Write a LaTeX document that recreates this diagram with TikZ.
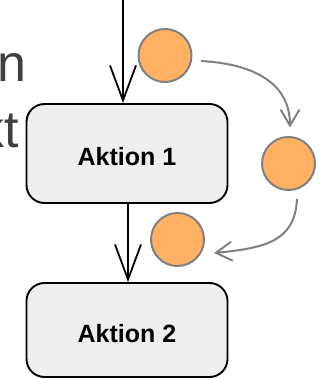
\documentclass[tikz,border=0pt]{standalone}
\usepackage{fontspec}
\setmainfont{Liberation Sans}
\usetikzlibrary{arrows.meta,calc}
\definecolor{boxfill}{HTML}{EEEEEE}
\definecolor{tokenfill}{HTML}{FFB062}
\definecolor{tokenline}{HTML}{808080}
\definecolor{sidetext}{HTML}{404040}
\tikzset{
  action/.style={draw=black, fill=boxfill, line width=1.9pt, rounded corners=18pt,
    minimum width=201pt, inner sep=0pt, text height=25pt, text depth=0pt,
    font=\fontsize{25}{30}\selectfont\bfseries},
  token/.style={circle, draw=tokenline, fill=tokenfill, line width=2pt,
    minimum size=53pt, inner sep=0pt},
  flow/.style={draw=black, line width=1.8pt,
    -{Straight Barb[length=35pt,width=26pt,line width=1.8pt]}},
  tokenflow/.style={draw=tokenline, line width=2pt,
    -{Straight Barb[length=16pt,width=19pt,line width=2pt]}},
  side/.style={inner sep=0pt, anchor=base east, text=sidetext,
    font=\fontsize{52}{62}\selectfont}
}
\begin{document}
\begin{tikzpicture}[x=1pt,y=-1pt]
  \useasboundingbox (0,0) rectangle (320,379);

  % partly visible text on the left
  \node[side] (t1) at (26.6,82) {n};
  \node[side] (t2) at (19,148) {kt};

  % actions
  \node[action, minimum height=99pt] (a1) at (127,153.5) {Aktion 1};
  \node[action, minimum height=94pt] (a2) at (127,330) {Aktion 2};

  % object tokens
  \node[token] (o1) at (165,55.5) {};
  \node[token] (o2) at (288.5,163.5) {};
  \node[token] (o3) at (177.5,239.5) {};

  % control flow
  \coordinate (in) at (123,0);
  \coordinate (mid) at (128,0);
  \draw[flow] (in) -- (in |- a1.north);
  \draw[flow] (mid |- a1.south) -- (mid |- a2.north);

  % token movement
  \coordinate (s1) at ($(o1.east)+(8.5,5.5)$);
  \coordinate (e1) at ($(o2.north)+(1.5,-8.5)$);
  \draw[tokenflow] (s1) .. controls ($(s1)+(55,3)$) and ($(e1)+(0,-43)$) .. (e1);
  \coordinate (s2) at ($(o2.south)+(8.5,8)$);
  \coordinate (e2) at ($(o3.east)+(9,13.5)$);
  \draw[tokenflow] (s2) .. controls ($(s2)+(-2,42)$) and ($(e2)+(52,-5)$) .. (e2);
\end{tikzpicture}
\end{document}
